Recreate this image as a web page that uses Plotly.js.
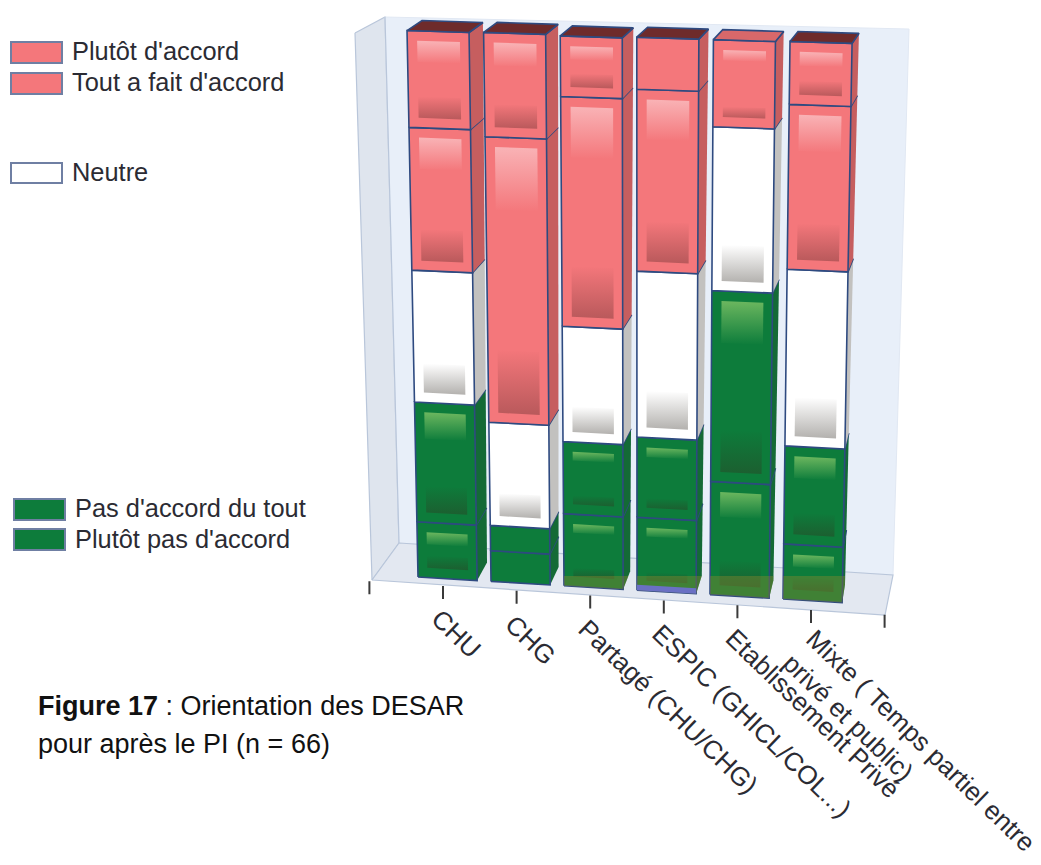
<!DOCTYPE html>
<html>
<head>
<meta charset="utf-8">
<script src="https://cdn.plot.ly/plotly-3.0.1.min.js"></script>
<style>html,body{margin:0;padding:0;background:#fff}#chart{width:1041px;height:865px}</style>
</head>
<body>
<div id="chart"></div>
<script>
// Share of respondents (%) per practice setting
const categories = ["CHU", "CHG", "Partagé (CHU/CHG)", "ESPIC (GHICL/COL...)", "Etablissement Privé", "Mixte ( Temps partiel entre<br>privé et public)"];
const plutotDaccord = [17.7, 19.0, 11.0, 9.4, 0, 11.3];
const toutAFaitDaccord = [26.1, 52.0, 41.7, 32.9, 15.7, 29.6];
const neutre = [24.1, 18.8, 20.9, 30.0, 29.5, 31.7];
const pasDaccordDuTout = [21.9, 4.6, 13.1, 14.5, 34.4, 17.6];
const plutotPasDaccord = [10.1, 5.6, 13.1, 13.2, 20.4, 9.9];

const seriesNames = ["Plutôt d'accord", "Tout a fait d'accord", "Neutre", "Pas d'accord du tout", "Plutôt pas d'accord"];

// Colour sets for the stacked series, bottom of the stack first
const PINK = {front:"#f4777b", side:"#c65e5f", hiTop:"#f9b3b6", hiBottom:"#b9595b"};
const WHITE = {front:"#ffffff", side:"#c2c1bf", hiTop:null, hiBottom:"#b3b1ae"};
const GREEN = {front:"#0d7c3b", side:"#146a36", hiTop:"#6cb75f", hiBottom:"#1c5f30"};
const stack = [
  {values: plutotPasDaccord, style: GREEN},
  {values: pasDaccordDuTout, style: GREEN},
  {values: neutre, style: WHITE},
  {values: toutAFaitDaccord, style: PINK, topFace:"#d8686a"},
  {values: plutotDaccord, style: PINK, topFace:"#6e2b2b"}
];

// Scale of the two hidden axes: one category step and one percent, in screen pixels
const W = 1041, H = 865, CAT = 73, PCT = 5.47, X0 = 418, Y0 = 577;
const toAxis = (px, py) => [(px - X0) / CAT, (Y0 - py) / PCT];
const BAR = 0.81;

// Perspective: bars converge slightly toward the floor and lean with their position
function front(u, v) {
  const t = v / 100;
  return [X0 + CAT * u + t * (-11 + 3.6 * u), Y0 + 4.4 * u + t * (-547 - 2 * u)];
}
function back(u, v) {
  const t = v / 100, p = front(u, v);
  return [p[0] + 11 - 1.4 * u + 4 * t, p[1] - 18 + 8 * t];
}

const traces = [];
function poly(points, opts) {
  const pts = points.concat([points[0]]).map(p => toAxis(p[0], p[1]));
  traces.push(Object.assign({
    type: "scatter", mode: "lines", fill: "toself", hoverinfo: "skip", showlegend: false,
    x: pts.map(p => p[0]), y: pts.map(p => p[1]), line: {width: 0}
  }, opts));
}

// Chart box: side wall, back wall, floor
const EDGE = {color: "#b9c6da", width: 1.2};
poly([[355,33],[385,17],[399,543],[372,580]], {fillcolor:"#dfe5ee", line:EDGE});
poly([[385,17],[909,29],[893,575],[399,543]], {fillcolor:"#e8eff9", line:{color:"#e1e8f3", width:1}});
poly([[372,580],[399,543],[893,575],[885,615]], {fillcolor:"#e3e8f1", line:EDGE});
poly([[385,17],[399,543]], {line:EDGE, fill:"none"});

// Axis ticks along the front of the floor
const tickAt = c => [443 + 73.6 * c, 586 + 4.8 * c];
for (let c = -1; c <= 6; c++) {
  const a = tickAt(c);
  poly([a, [a[0], a[1] + 13]], {fill:"none", line:{color:"#3a3a3a", width:2}});
}

const OUTLINE = {color: "#2e4a80", width: 1.6};
const gradient = (bottom, top) => ({type: "vertical", colorscale: [[0, bottom], [1, top]]});

// Stacked bars, one column per category
categories.forEach((_, c) => {
  const u0 = c, u1 = c + BAR;
  let base = 0;
  stack.forEach(s => {
    const val = s.values[c];
    if (!val) return;
    const v0 = base, v1 = base + val;
    poly([front(u1,v0), back(u1,v0), back(u1,v1), front(u1,v1)], {fillcolor:s.style.side});
    poly([front(u1,v1), back(u1,v1)], {fill:"none", line:OUTLINE});
    poly([front(u0,v0), front(u1,v0), front(u1,v1), front(u0,v1)], {fillcolor:s.style.front, line:OUTLINE});
    // Glossy bands inside the front face
    if (val >= 9.5) {
      const a = u0 + BAR * 0.16, b = u1 - BAR * 0.15, gap = 1.8;
      const band = val * (val > 12 && val < 16 ? 0.12 : 0.22);
      if (s.style.hiTop) {
        poly([front(a,v1-gap-band), front(b,v1-gap-band), front(b,v1-gap), front(a,v1-gap)],
             {fillgradient: gradient(s.style.front, s.style.hiTop)});
      }
      poly([front(a,v0+gap), front(b,v0+gap), front(b,v0+gap+band), front(a,v0+gap+band)],
           {fillgradient: gradient(s.style.hiBottom, s.style.front)});
    }
    base = v1;
  });
  // Lid of the column, coloured by whichever series ends the stack
  const last = stack.filter(s => s.values[c] > 0).pop();
  poly([front(u0,base), front(u1,base), back(u1,base), back(u0,base)], {fillcolor:last.topFace, line:OUTLINE});
});

// Translucent olive strip at the foot of the right-hand columns
const LEVEL = 576;
const vAtLevel = u => (front(u, 0)[1] - LEVEL) / (-(front(u, 100)[1] - front(u, 0)[1]) / 100);
for (let c = 2; c < categories.length; c++) {
  const u0 = c, u1 = c + BAR, vl = vAtLevel(u0), vr = vAtLevel(u1);
  poly([front(u0,0), front(u1,0), front(u1,vr), front(u0,vl)], {fillcolor:"rgba(135,135,45,0.42)"});
  const f = front(u1,0), k = back(u1,0), t = Math.min(1, (f[1] - LEVEL) / (f[1] - k[1]));
  const side = [f, [f[0] + (k[0]-f[0])*t, f[1] + (k[1]-f[1])*t]];
  if (t === 1) side.push([k[0], LEVEL]);
  side.push(front(u1,vr));
  poly(side, {fillcolor:"rgba(135,135,45,0.42)"});
}
// Thin violet slice under the ESPIC column
poly([front(3,0), front(3+BAR,0), front(3+BAR,1), front(3,1)], {fillcolor:"#6a70c4"});

// Category labels, running down to the right from each tick
const DARK = "#2b2b33", FONT = "Liberation Sans, Arial, sans-serif";
const annotations = categories.map((name, c) => {
  const a = tickAt(c), p = toAxis(a[0] - 20 - (c === 5 ? 17 : 0), a[1] + 15 - (c === 5 ? 4 : 0));
  return {x:p[0], y:p[1], xref:"x", yref:"y", text:name, textangle:44, showarrow:false,
          xanchor:"left", yanchor:"top", align:"left", font:{family:FONT, size:26, color:DARK}};
});

// Legend: swatches are drawn as shapes beside their names
const legendRows = [
  {name:seriesNames[0], fill:PINK.front, x:11, y:42, h:21},
  {name:seriesNames[1], fill:PINK.front, x:11, y:73, h:21},
  {name:seriesNames[2], fill:WHITE.front, x:11, y:163, h:20},
  {name:seriesNames[3], fill:GREEN.front, x:14, y:499, h:21},
  {name:seriesNames[4], fill:GREEN.front, x:14, y:529, h:21}
];
const shapes = legendRows.map(r => ({type:"rect", xref:"paper", yref:"paper",
  x0:r.x/W, x1:(r.x+51)/W, y0:1-r.y/H, y1:1-(r.y+r.h)/H,
  fillcolor:r.fill, line:{color:"#6f7fa3", width:2}}));
legendRows.forEach(r => annotations.push({xref:"paper", yref:"paper", x:(r.x+59)/W, y:1-(r.y+r.h/2-1)/H,
  text:r.name, showarrow:false, xanchor:"left", yanchor:"middle",
  font:{family:FONT, size:25.4, color:DARK}}));

// Figure caption
[["<b>Figure 17</b> : Orientation des DESAR", 706], ["pour après le PI (n = 66)", 744]].forEach(([text, y]) =>
  annotations.push({xref:"paper", yref:"paper", x:36/W, y:1-y/H, text, showarrow:false,
    xanchor:"left", yanchor:"middle", font:{family:FONT, size:27, color:"#111"}}));

const layout = {
  width: W, height: H, margin: {l:0, r:0, t:0, b:0}, showlegend: false,
  paper_bgcolor: "#fff", plot_bgcolor: "#fff",
  xaxis: {visible:false, range:[(0 - X0) / CAT, (W - X0) / CAT], fixedrange:true},
  yaxis: {visible:false, range:[(Y0 - H) / PCT, Y0 / PCT], fixedrange:true},
  shapes, annotations, hovermode:false
};
Plotly.newPlot("chart", traces, layout, {displayModeBar:false, staticPlot:true});
</script>
</body>
</html>
